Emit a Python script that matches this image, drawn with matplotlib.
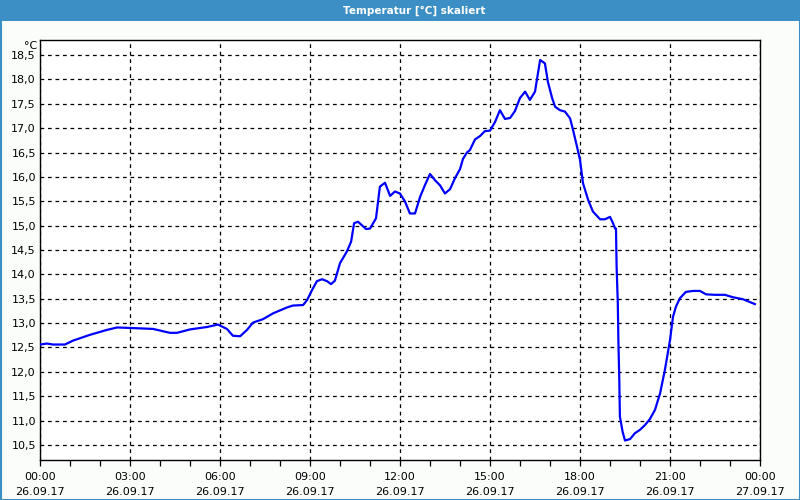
import matplotlib
matplotlib.use("Agg")
import matplotlib.pyplot as plt
from matplotlib.patches import Rectangle
from matplotlib.ticker import MultipleLocator

# hours since 26.09.17 00:00
hours = [0.0, 0.23, 0.43, 0.83, 1.1, 1.67, 2.23, 2.57, 3.0, 3.77, 4.33, 4.57, 5.0, 5.57,
         5.93, 6.23, 6.43, 6.67, 6.9, 7.1, 7.43, 7.77, 8.23, 8.43, 8.77, 8.9, 9.07, 9.23,
         9.4, 9.57, 9.7, 9.83, 10.0, 10.23, 10.37, 10.47, 10.6, 10.87, 11.0, 11.2, 11.33,
         11.5, 11.67, 11.83, 12.0, 12.17, 12.33, 12.5, 12.67, 12.83, 13.0, 13.17, 13.33,
         13.5, 13.67, 13.83, 14.0, 14.1, 14.23, 14.33, 14.5, 14.67, 14.83, 15.0, 15.17,
         15.33, 15.5, 15.67, 15.83, 16.0, 16.17, 16.33, 16.5, 16.67, 16.83, 16.93, 17.07,
         17.17, 17.33, 17.5, 17.67, 17.77, 17.9, 18.0, 18.1, 18.27, 18.43, 18.67, 18.83,
         19.0, 19.1, 19.17, 19.2, 19.22, 19.26, 19.28, 19.31, 19.33, 19.42, 19.5, 19.67,
         19.83, 20.0, 20.17, 20.33, 20.5, 20.67, 20.83, 21.0, 21.1, 21.2, 21.33, 21.53,
         21.77, 22.0, 22.2, 22.5, 22.83, 23.1, 23.43, 23.83]
temps = [12.56, 12.58, 12.56, 12.56, 12.64, 12.76, 12.86, 12.91, 12.90, 12.88, 12.80, 12.80,
         12.87, 12.92, 12.97, 12.88, 12.74, 12.73, 12.86, 13.01, 13.08, 13.20, 13.32, 13.36,
         13.37, 13.47, 13.68, 13.86, 13.90, 13.86, 13.80, 13.87, 14.23, 14.47, 14.67, 15.05,
         15.08, 14.93, 14.94, 15.15, 15.80, 15.88, 15.61, 15.70, 15.66, 15.49, 15.25, 15.25,
         15.59, 15.83, 16.06, 15.93, 15.83, 15.66, 15.75, 15.97, 16.16, 16.37, 16.50, 16.55,
         16.77, 16.84, 16.94, 16.95, 17.13, 17.37, 17.19, 17.21, 17.35, 17.62, 17.75, 17.58,
         17.75, 18.40, 18.33, 17.95, 17.62, 17.44, 17.37, 17.34, 17.20, 16.96, 16.62, 16.35,
         15.87, 15.53, 15.29, 15.13, 15.13, 15.18, 15.05, 14.94, 14.94, 14.16, 13.41, 12.62,
         11.83, 11.08, 10.77, 10.59, 10.62, 10.74, 10.81, 10.91, 11.03, 11.22, 11.56, 12.04,
         12.65, 13.13, 13.34, 13.51, 13.64, 13.66, 13.66, 13.59, 13.58, 13.58, 13.53, 13.49,
         13.39]

xticks = [0, 3, 6, 9, 12, 15, 18, 21, 24]
xlabels = ["00:00\n26.09.17", "03:00\n26.09.17", "06:00\n26.09.17", "09:00\n26.09.17",
           "12:00\n26.09.17", "15:00\n26.09.17", "18:00\n26.09.17", "21:00\n26.09.17",
           "00:00\n27.09.17"]
yticks = [10.5, 11.0, 11.5, 12.0, 12.5, 13.0, 13.5, 14.0, 14.5, 15.0, 15.5, 16.0, 16.5,
          17.0, 17.5, 18.0, 18.5]
ylabels = [f"{v:.1f}".replace(".", ",") for v in yticks]

bg = "#fbfdfb"
bar = "#3b8fc4"

fig = plt.figure(figsize=(8, 5), dpi=100, facecolor=bg)
ax = fig.add_axes([0.05, 0.08, 0.9, 0.84], facecolor="white")

# title bar + window frame
fig.patches.append(Rectangle((0, 1 - 21 / 500), 1, 21 / 500, transform=fig.transFigure,
                             fc=bar, ec="none", zorder=0))
fig.patches.append(Rectangle((0.5 / 800, 0.5 / 500), 799 / 800, 499 / 500,
                             transform=fig.transFigure, fc="none", ec=bar, lw=1.5, zorder=0))
fig.text(0.518, 1 - 10.5 / 500, "Temperatur [°C] skaliert", color="white",
         fontsize=7.5, weight="bold", ha="center", va="center")
fig.text(37 / 800, 1 - 46 / 500, "°C", fontsize=8, ha="right", va="center")

ax.plot(hours, temps, color="#0000ff", lw=1.6, zorder=3)

ax.set_xlim(0, 24)
ax.set_ylim(10.19, 18.81)
ax.set_xticks(xticks)
ax.set_xticklabels(xlabels, fontsize=8, linespacing=1.55)
ax.xaxis.set_minor_locator(MultipleLocator(1))
ax.set_yticks(yticks)
ax.set_yticklabels(ylabels, fontsize=8)
ax.tick_params(axis="x", which="both", direction="out", length=4, width=0.9, pad=5)
ax.tick_params(axis="y", length=0, pad=3)

ax.grid(True, color="black", lw=0.9, ls=(0, (3, 3)), zorder=1)
for s in ax.spines.values():
    s.set_color("black")
    s.set_linewidth(1.0)

fig.savefig("out.png", dpi=100, facecolor=bg)
